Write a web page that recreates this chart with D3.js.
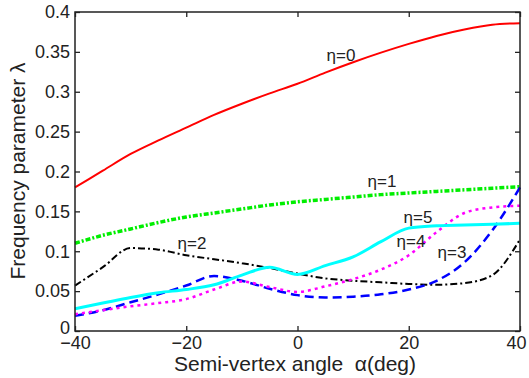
<!DOCTYPE html>
<html>
<head>
<meta charset="utf-8">
<script src="https://cdn.jsdelivr.net/npm/d3@7"></script>
<style>
  body { margin: 0; background: #fff; }
  text { font-family: "Liberation Sans", Arial, sans-serif; fill: #222; }
</style>
</head>
<body>
<div id="chart"></div>
<script>
// semi-vertex angle (deg)
var alpha = [-40, -35, -30, -25, -20, -15, -10, -5, 0, 5, 10, 15, 20, 25, 30, 35, 40];

// frequency parameter for each eta
var eta0 = [0.180, 0.201, 0.222, 0.239, 0.255, 0.271, 0.285, 0.298, 0.310, 0.324, 0.337, 0.349, 0.360, 0.370, 0.378, 0.384, 0.386];
var eta1 = [0.110, 0.120, 0.128, 0.136, 0.143, 0.148, 0.153, 0.158, 0.162, 0.165, 0.168, 0.171, 0.173, 0.175, 0.177, 0.179, 0.181];
var eta2 = [0.057, 0.080, 0.104, 0.102, 0.095, 0.090, 0.085, 0.079, 0.072, 0.066, 0.063, 0.061, 0.059, 0.058, 0.060, 0.070, 0.115];
var eta3 = [0.019, 0.026, 0.036, 0.046, 0.057, 0.069, 0.063, 0.053, 0.045, 0.042, 0.043, 0.046, 0.052, 0.063, 0.086, 0.126, 0.180];
var eta4 = [0.021, 0.026, 0.031, 0.035, 0.040, 0.052, 0.062, 0.055, 0.049, 0.056, 0.065, 0.077, 0.095, 0.124, 0.148, 0.155, 0.157];
var eta5 = [0.028, 0.035, 0.042, 0.048, 0.052, 0.058, 0.070, 0.080, 0.071, 0.082, 0.093, 0.112, 0.129, 0.132, 0.133, 0.134, 0.135];

var xTicks = [-40, -20, 0, 20, 40];
var yTicks = [0, 0.05, 0.1, 0.15, 0.2, 0.25, 0.3, 0.35, 0.4];

var width = 529, height = 378;
var margin = {left: 75, right: 9, top: 12, bottom: 47};
var w = width - margin.left - margin.right, h = height - margin.top - margin.bottom;

var svg = d3.select('#chart').append('svg')
    .attr('width', width).attr('height', height);
var g = svg.append('g')
    .attr('transform', 'translate(' + margin.left + ',' + margin.top + ')');

var x = d3.scaleLinear().domain([-40, 40]).range([0, w]);
var y = d3.scaleLinear().domain([0, 0.4]).range([h, 0]);

// series
var series = [
    {name: 'η=0', vals: eta0, color: '#ff0000', width: 2, dash: null, lx: 341, ly: 61},
    {name: 'η=1', vals: eta1, color: '#00ee00', width: 3.5, dash: '5,2,2,2', lx: 382, ly: 187},
    {name: 'η=2', vals: eta2, color: '#000000', width: 2, dash: '7,3,2,3', lx: 192, ly: 249},
    {name: 'η=3', vals: eta3, color: '#0000ff', width: 2.5, dash: '9,5', lx: 452, ly: 258},
    {name: 'η=4', vals: eta4, color: '#ff00ff', width: 2.5, dash: '3,4', lx: 411, ly: 247},
    {name: 'η=5', vals: eta5, color: '#00ffff', width: 3, dash: null, lx: 418, ly: 223}
];

var line = d3.line()
    .x(function(d) { return x(d[0]); })
    .y(function(d) { return y(d[1]); })
    .curve(d3.curveMonotoneX);

var plot = g.append('g');
plot.selectAll('path').data(series)
    .join('path')
    .attr('d', function(s) { return line(alpha.map(function(a, i) { return [a, s.vals[i]]; })); })
    .attr('fill', 'none')
    .attr('stroke', function(s) { return s.color; })
    .attr('stroke-width', function(s) { return s.width; })
    .attr('stroke-dasharray', function(s) { return s.dash; });

// frame with inward ticks on all sides
g.append('rect').attr('width', w).attr('height', h)
    .attr('fill', 'none').attr('stroke', '#222').attr('stroke-width', 1.5);

var fmt = function(d) { return d === 0 ? '0' : d3.format('.2~f')(d); };

var xAxis = g.append('g').attr('transform', 'translate(0,' + h + ')')
    .call(d3.axisBottom(x).tickValues(xTicks).tickSize(-5).tickPadding(5));
var xTop = g.append('g')
    .call(d3.axisTop(x).tickValues(xTicks).tickSize(-5).tickFormat(''));
var yAxis = g.append('g')
    .call(d3.axisLeft(y).tickValues(yTicks).tickSize(-5).tickPadding(5).tickFormat(fmt));
var yRight = g.append('g').attr('transform', 'translate(' + w + ',0)')
    .call(d3.axisRight(y).tickValues(yTicks).tickSize(-5).tickFormat(''));

[xAxis, xTop, yAxis, yRight].forEach(function(a) {
    a.select('.domain').remove();
    a.selectAll('.tick line').attr('stroke', '#222').attr('stroke-width', 1.3);
    a.selectAll('text').style('font-size', '18px').attr('fill', '#222');
});
// keep the last x label inside the window, and lift the y "0" off "-40"
xAxis.selectAll('.tick text').filter(function(d) { return d === 40; }).attr('dx', -4);
yAxis.selectAll('.tick text').filter(function(d) { return d === 0; }).attr('dy', '0.12em');

// curve labels
svg.append('g').selectAll('text').data(series)
    .join('text')
    .attr('x', function(s) { return s.lx; })
    .attr('y', function(s) { return s.ly; })
    .attr('text-anchor', 'middle')
    .style('font-size', '17px')
    .text(function(s) { return s.name; });

// axis titles
svg.append('text')
    .attr('x', 295).attr('y', 371)
    .attr('text-anchor', 'middle')
    .style('font-size', '21px')
    .style('white-space', 'pre')
    .text('Semi-vertex angle  α(deg)');

svg.append('text')
    .attr('transform', 'translate(25,171) rotate(-90)')
    .attr('text-anchor', 'middle')
    .style('font-size', '21px')
    .text('Frequency parameter λ');
</script>
</body>
</html>
